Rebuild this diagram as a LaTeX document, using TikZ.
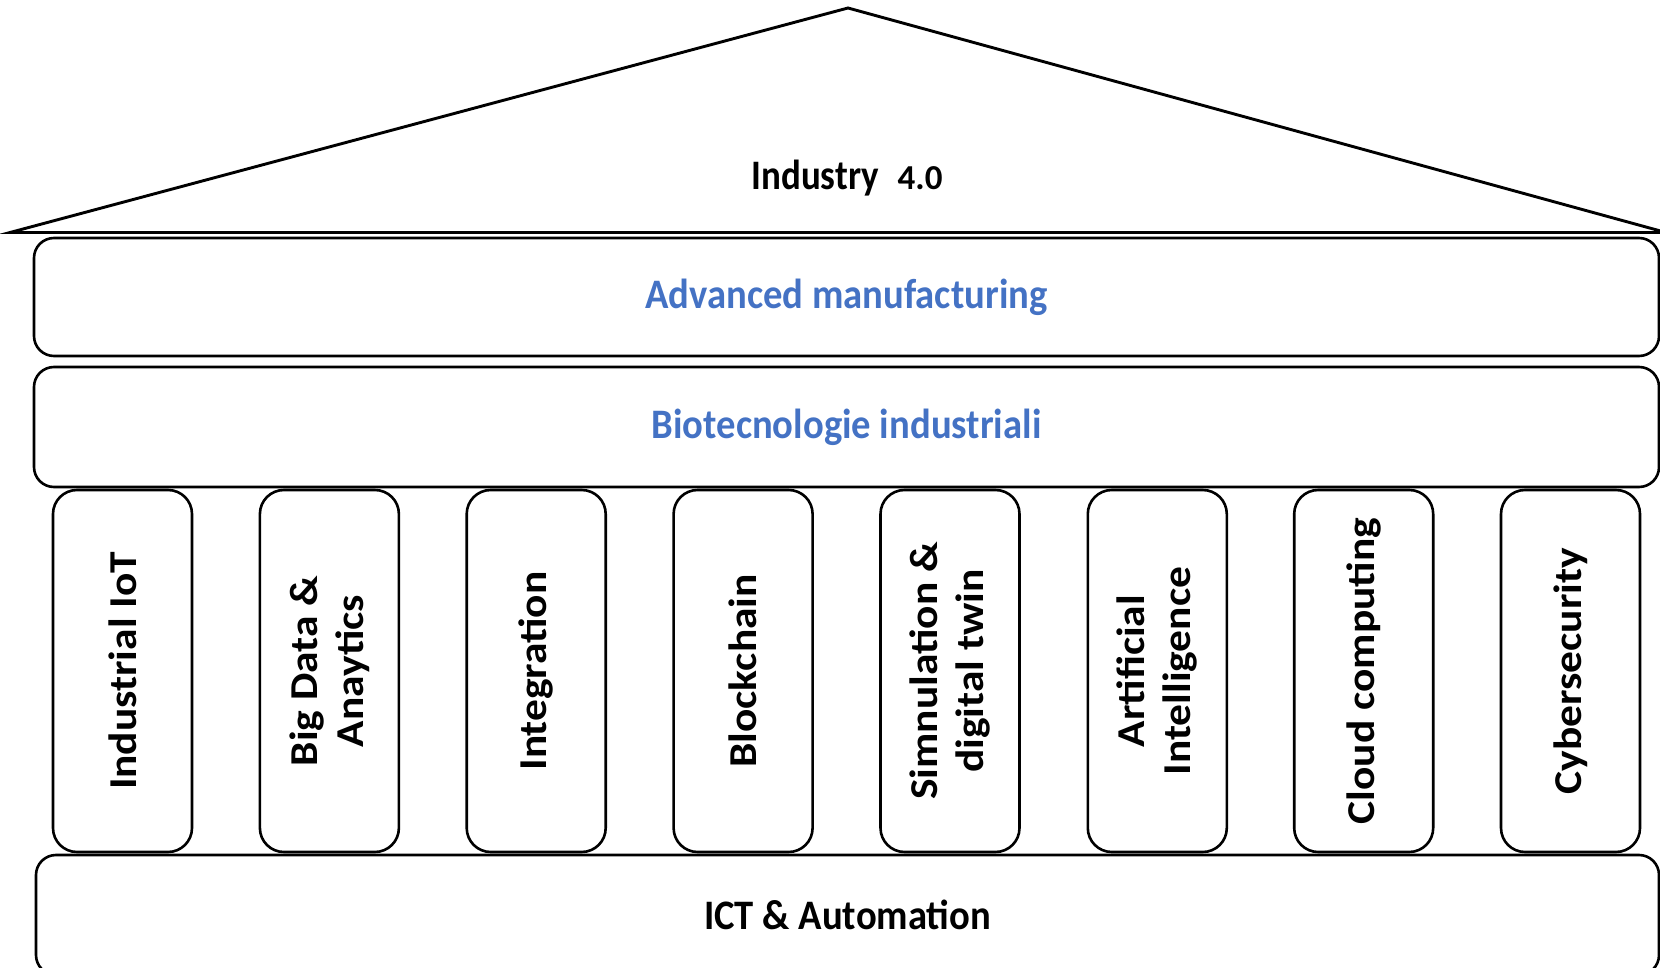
\documentclass[tikz,border=0pt]{standalone}
\usepackage{fontspec}
\setmainfont{Carlito}
\newfontfamily\hfont[FakeStretch=0.92]{Carlito}
\newfontfamily\rooffont[FakeStretch=0.88]{Carlito}
\newfontfamily\numfont{Carlito}
\newfontfamily\vfont[FakeStretch=1.1]{Carlito}
\definecolor{ablue}{HTML}{4472C4}
\begin{document}
\begin{tikzpicture}[x=1pt,y=-1pt,
  box/.style={draw, line width=2.6pt, rounded corners=20pt, inner sep=0pt,
    font=\hfont\fontsize{42}{48}\selectfont\bfseries},
  pillar/.style={draw, line width=2.6pt, rounded corners=24pt,
    minimum width=362pt, minimum height=139pt, rotate=90, inner sep=0pt,
    align=center, font=\vfont\fontsize{39.5}{46}\selectfont\bfseries},
  roofline/.style={line width=2.9pt, line join=miter}
]
\clip (0,0) rectangle (1660,968);
% roof
\coordinate (apex) at (848,8);
\coordinate (L) at (10,232.5);
\coordinate (R) at (1666,232.5);
\draw[roofline] (L) -- (apex) -- (R) -- cycle;
\node[anchor=base, inner sep=0pt, font=\rooffont\fontsize{42}{48}\selectfont\bfseries] (ind) at (847,190)
  {Industry\hspace{0.45em}{\numfont\bfseries\fontsize{35}{40}\selectfont 4.0}};
% beams
\node[box, text=ablue, minimum width=1625pt, minimum height=118pt] (am) at (846.5,297) {Advanced manufacturing};
\node[box, text=ablue, minimum width=1625pt, minimum height=120pt] (bio) at (846.5,427) {Biotecnologie industriali};
% pillars
\node[pillar] (p1) at (122.5,671) {Industrial IoT};
\node[pillar] (p2) at (329.4,671) {Big Data \&\\Anaytics};
\node[pillar] (p3) at (536.2,671) {Integration};
\node[pillar] (p4) at (743.1,671) {Blockchain};
\node[pillar] (p5) at (950.0,671) {Simnulation \&\\digital twin};
\node[pillar] (p6) at (1157.3,671) {Artificial\\Intelligence};
\node[pillar] (p7) at (1363.7,671) {Cloud computing};
\node[pillar] (p8) at (1570.5,671) {Cybersecurity};
% base
\node[box, minimum width=1623pt, minimum height=120pt] (ict) at (847.5,915) {ICT \& Automation};
\end{tikzpicture}
\end{document}
